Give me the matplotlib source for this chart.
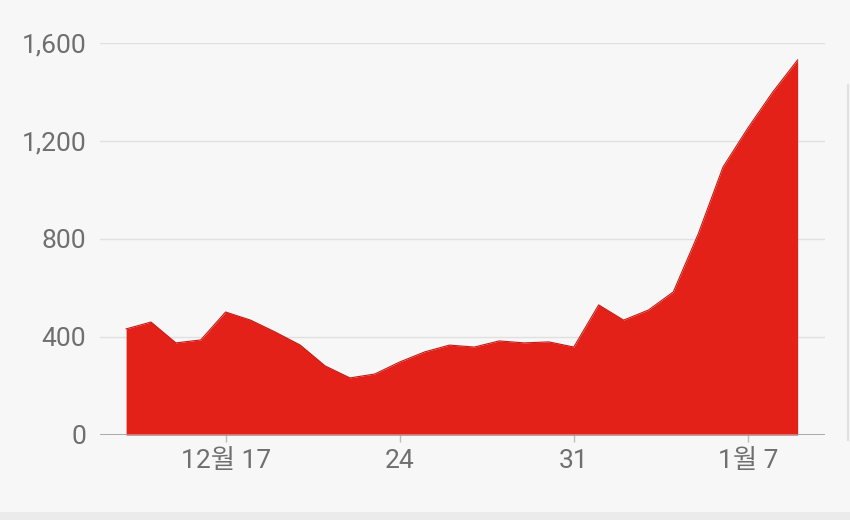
import pandas as pd
import matplotlib.pyplot as plt
from matplotlib.patches import Rectangle
from matplotlib.lines import Line2D

# daily values, Dec 13 -> Jan 9
dates = pd.date_range("2019-12-13", "2020-01-09", freq="D")
values = [433, 461, 376, 388, 502, 469, 420, 367, 282, 233,
          249, 298, 339, 367, 359, 384, 376, 380, 359, 531,
          469, 510, 584, 820, 1094, 1253, 1400, 1531]

tick_dates = pd.to_datetime(["2019-12-17", "2019-12-24", "2019-12-31", "2020-01-07"])
tick_labels = ["12월 17", "24", "31", "1월 7"]
y_ticks = [0, 400, 800, 1200, 1600]

plt.rcParams['font.family'] = ['Roboto', 'Noto Sans CJK KR', 'DejaVu Sans']

bg = "#f7f7f7"
fig = plt.figure(figsize=(8.5, 5.2), dpi=100, facecolor=bg)
ax = fig.add_axes([100/850, 1 - 435/520, 725/850, 392/520])
ax.set_facecolor(bg)

ax.fill_between(dates, values, 0, color="#e32118", linewidth=0, zorder=3)
ax.plot(dates, values, color="#c41a12", linewidth=0.8, zorder=4)

ax.set_ylim(0, 1600)
ax.set_xlim(dates[0] - pd.Timedelta(days=1.05), dates[-1] + pd.Timedelta(days=1.1))
ax.set_yticks(y_ticks)
ax.set_yticklabels([f"{v:,}" for v in y_ticks])
ax.set_xticks(tick_dates)
ax.set_xticklabels(tick_labels)

for v in y_ticks[1:]:
    ax.axhline(v, color="#e0e0e0", linewidth=1, zorder=1)
ax.axhline(0, color="#9e9e9e", linewidth=1.2, zorder=5)

for s in ax.spines.values():
    s.set_visible(False)
ax.tick_params(axis="y", length=0, pad=10, labelsize=19, labelcolor="#6f6f6f")
ax.tick_params(axis="x", length=5, width=1, color="#bdbdbd", pad=5,
               labelsize=19, labelcolor="#6f6f6f")

# page decorations
fig.patches.append(Rectangle((0, 0), 1, 8/520, transform=fig.transFigure,
                             facecolor="#ebebeb", edgecolor="none"))
fig.lines.append(Line2D([848/850, 848/850], [1 - 440/520, 1 - 85/520],
                        transform=fig.transFigure, color="#e0e0e0", linewidth=1.5))

fig.savefig("out.png", dpi=100, facecolor=bg)
